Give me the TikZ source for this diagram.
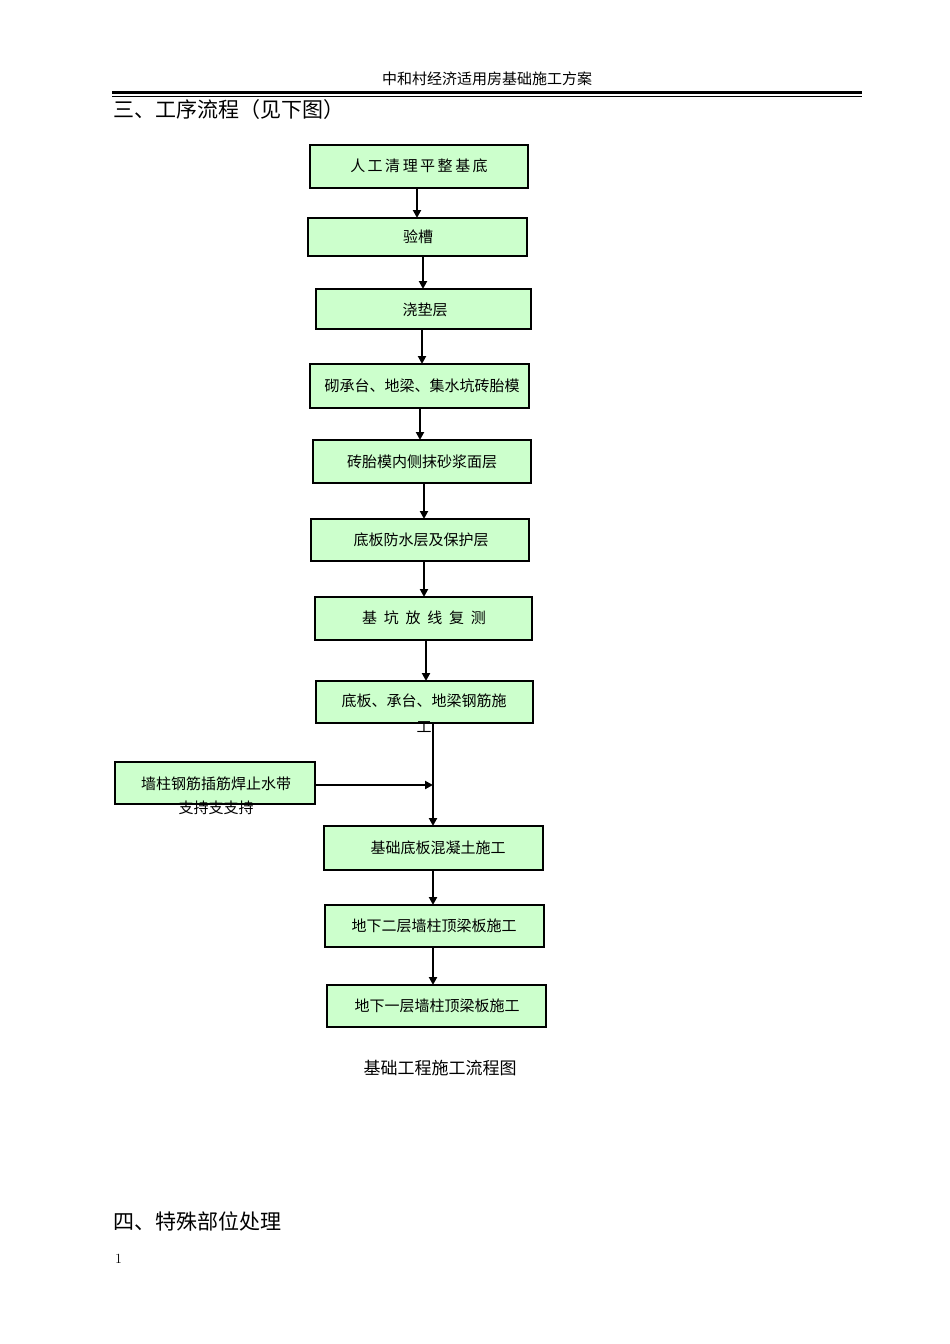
\documentclass[tikz,border=0pt]{standalone}
\usepackage{fontspec}
\newfontfamily\cjk{Noto Sans CJK SC}
\usetikzlibrary{arrows.meta}
\definecolor{boxgreen}{HTML}{CCFFCC}
\begin{document}
\begin{tikzpicture}[x=1pt,y=-1pt,
  bx/.style={draw=black,line width=2.5pt,fill=boxgreen},
  lbl/.style={font=\cjk\fontsize{15}{18}\selectfont,inner sep=0pt},
  arr/.style={line width=2pt,-{Triangle[length=8pt,width=8pt]}}]
\useasboundingbox (0,0) rectangle (950,1344);
\node[font=\cjk\fontsize{15}{18}\selectfont] (hdr) at (487,79) {中和村经济适用房基础施工方案};
\draw[line width=2.5pt] (112,92.5) -- (862,92.5);
\draw[line width=1pt] (112,96.5) -- (862,96.5);
\node[anchor=west,font=\cjk\fontsize{21}{24}\selectfont,inner sep=0pt] (h3) at (113,110) {三、工序流程（见下图）};
\node[anchor=west,font=\cjk\fontsize{21}{24}\selectfont,inner sep=0pt] (h4) at (113,1221) {四、特殊部位处理};
\node[anchor=west,font=\fontsize{14}{16}\selectfont,inner sep=0pt] (pg) at (115,1259) {1};
\foreach \n/\l/\t/\r/\b in {b1/310/145/528/188,b2/308/218/527/256,b3/316/289/531/329,b4/310/364/529/408,b5/313/440/531/483,b6/311/519/529/561,b7/315/597/532/640,b8/316/681/533/723,bl/115/762/315/804,b9/324/826/543/870,b10/325/905/544/947,b11/327/985/546/1027}
  \draw[bx] (\l,\t) rectangle (\r,\b) coordinate (\n-se) (\l,\t) coordinate (\n-nw);
\node[lbl] (t1) at (419,166) {人\,工\,清\,理\,平\,整\,基\,底};
\node[lbl] (t2) at (418,237) {验槽};
\node[lbl] (t3) at (425,310) {浇垫层};
\node[lbl] (t4) at (422,386) {砌承台、地梁、集水坑砖胎模};
\node[lbl] (t5) at (422,462) {砖胎模内侧抹砂浆面层};
\node[lbl] (t6) at (421,540) {底板防水层及保护层};
\node[lbl] (t7) at (424,618) {基\ \ 坑\ \ 放\ \ 线\ \ 复\ \ 测};
\node[lbl] (t8) at (424,701) {底板、承台、地梁钢筋施};
\node[lbl] (t8b) at (424,727) {工};
\node[lbl] (tl) at (216,784) {墙柱钢筋插筋焊止水带};
\node[lbl] (tlb) at (216,808) {支持支支持};
\node[lbl] (t9) at (438,848) {基础底板混凝土施工};
\node[lbl] (t10) at (434,926) {地下二层墙柱顶梁板施工};
\node[lbl] (t11) at (437,1006) {地下一层墙柱顶梁板施工};
\node[font=\cjk\fontsize{17}{20}\selectfont] (cap) at (440,1068) {基础工程施工流程图};
\coordinate (j) at (433,785);
\draw[arr] (417,188) -- (417,218);
\draw[arr] (423,256) -- (423,289);
\draw[arr] (422,329) -- (422,364);
\draw[arr] (420,408) -- (420,440);
\draw[arr] (424,483) -- (424,519);
\draw[arr] (424,561) -- (424,597);
\draw[arr] (426,640) -- (426,681);
\draw[arr] (433,723) -- (433,826);
\draw[arr] (315,785) -- (j);
\draw[arr] (433,870) -- (433,905);
\draw[arr] (433,947) -- (433,985);
\end{tikzpicture}
\end{document}
